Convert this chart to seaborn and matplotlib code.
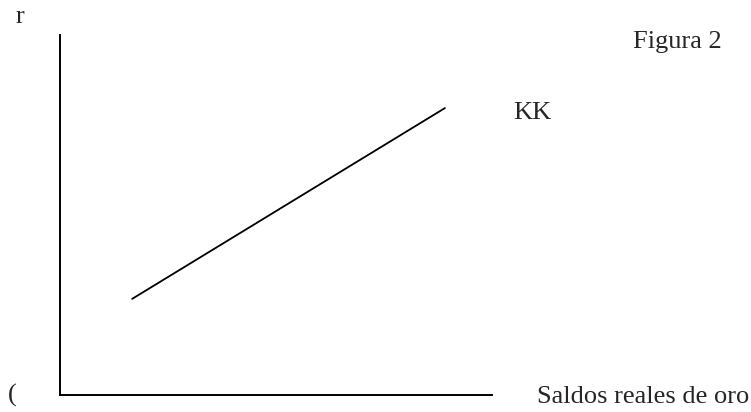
import matplotlib
matplotlib.use("Agg")
import matplotlib.pyplot as plt
import pandas as pd
import seaborn as sns

# ── Données (unités arbitraires 0-100) ───────────────────────────────
kk_x = [16.7, 89.1]
kk_y = [26.7, 79.7]
curve_label = "KK"
y_label = "r"
x_label = "Saldos reales de oro"
origin_label = "("
title = "Figura 2"

W, H = 751, 412

sns.set_theme(style="white")
plt.rcParams["font.family"] = ["Liberation Serif", "DejaVu Serif"]

fig = plt.figure(figsize=(W / 100, H / 100), dpi=100)
# axes en pixels : gauche 60, droite 492, haut 35, bas 395
ax = fig.add_axes([60 / W, (H - 395) / H, (492 - 60) / W, (395 - 35) / H])

df = pd.DataFrame({"x": kk_x, "y": kk_y})
sns.lineplot(data=df, x="x", y="y", ax=ax, color="black", linewidth=1.3)

ax.set_xlim(0, 100)
ax.set_ylim(0, 100)
ax.set_xticks([])
ax.set_yticks([])
ax.set_xlabel("")
ax.set_ylabel("")
for side in ["top", "right"]:
    ax.spines[side].set_visible(False)
for side in ["left", "bottom"]:
    ax.spines[side].set_color("black")
    ax.spines[side].set_linewidth(1.4)
ax.set_facecolor("white")


def px(x, y):
    return x / W, 1 - y / H


fs = 19
fig.text(*px(16, 23), y_label, fontsize=fs, va="baseline", ha="left")
fig.text(*px(8, 402), origin_label, fontsize=fs, va="baseline", ha="left")
fig.text(*px(537, 403), x_label, fontsize=fs, va="baseline", ha="left")
fig.text(*px(633, 48), title, fontsize=fs, va="baseline", ha="left")
fig.text(*px(513, 119), curve_label, fontsize=fs, va="baseline", ha="left")

fig.savefig("out.png", dpi=100, facecolor="white")
